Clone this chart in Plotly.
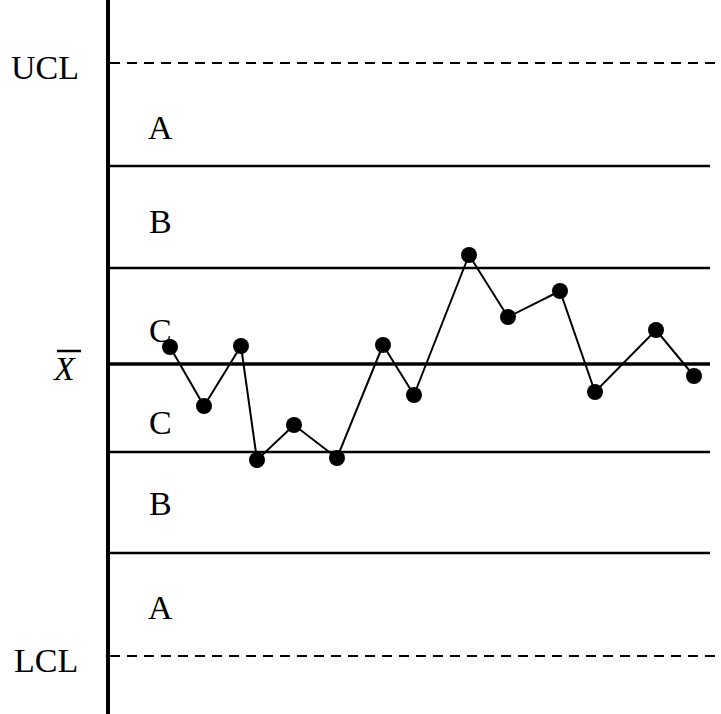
import plotly.graph_objects as go

# Sample positions (arbitrary time units) and subgroup values (sigma-ish units)
sample_t = [6.0, 9.4, 13.1, 14.7, 18.4, 22.7, 27.3, 30.4, 35.9, 39.8, 45.0, 48.5, 54.6, 58.4]
sample_v = [0.17, -0.42, 0.18, -0.96, -0.61, -0.94, 0.19, -0.31, 1.09, 0.47, 0.73, -0.28, 0.34, -0.12]

# Control limits and zone boundaries
ucl = 3.01
lcl = -2.92
center = 0.0
zone_bounds = [1.98, 0.96, -0.88, -1.89]

# Zone labels and their vertical centres
zone_labels = ["A", "B", "C", "C", "B", "A"]
zone_label_y = [2.37, 1.43, 0.34, -0.58, -1.39, -2.43]

LEFT = 110
X_MAX = 61.1
SOLID_END = 60.0
FONT = "Liberation Serif, Times New Roman, serif"
FS = 34

fig = go.Figure()

# Dashed control limits
for lvl in (ucl, lcl):
    fig.add_trace(go.Scatter(x=[0, X_MAX], y=[lvl, lvl], mode="lines",
                             line=dict(color="black", width=2, dash="10px,7px"),
                             hoverinfo="skip", showlegend=False))

# Zone boundaries
for lvl in zone_bounds:
    fig.add_trace(go.Scatter(x=[0, SOLID_END], y=[lvl, lvl], mode="lines",
                             line=dict(color="black", width=2.3),
                             hoverinfo="skip", showlegend=False))

# Center line
fig.add_trace(go.Scatter(x=[0, SOLID_END], y=[center, center], mode="lines",
                         line=dict(color="black", width=3.5),
                         hoverinfo="skip", showlegend=False))

# Data series
fig.add_trace(go.Scatter(x=sample_t, y=sample_v, mode="lines+markers",
                         line=dict(color="black", width=2),
                         marker=dict(color="black", size=16),
                         cliponaxis=False, showlegend=False))

annotations = []
for lab, yv in zip(zone_labels, zone_label_y):
    annotations.append(dict(x=5.0, y=yv, xref="x", yref="y", text=lab,
                            xanchor="center", yanchor="middle",
                            showarrow=False, font=dict(family=FONT, size=FS, color="black")))

def px_to_paper_x(px):
    return (px - LEFT) / (721 - LEFT)

annotations.append(dict(x=px_to_paper_x(45), y=ucl, xref="paper", yref="y", text="UCL",
                        xanchor="center", yanchor="middle", yshift=-4,
                        showarrow=False, font=dict(family=FONT, size=FS, color="black")))
annotations.append(dict(x=px_to_paper_x(46), y=lcl, xref="paper", yref="y", text="LCL",
                        xanchor="center", yanchor="middle", yshift=-4,
                        showarrow=False, font=dict(family=FONT, size=FS, color="black")))
annotations.append(dict(x=px_to_paper_x(64), y=center, xref="paper", yref="y", text="<i>X</i>",
                        xanchor="center", yanchor="middle", yshift=-4,
                        showarrow=False, font=dict(family=FONT, size=FS, color="black")))

fig.add_shape(type="line", xref="paper", yref="paper",
              x0=px_to_paper_x(57), x1=px_to_paper_x(81),
              y0=(714 - 351) / 714, y1=(714 - 351) / 714,
              line=dict(color="black", width=2.5))

fig.update_layout(
    width=721, height=714,
    margin=dict(l=LEFT, r=0, t=0, b=0),
    paper_bgcolor="white", plot_bgcolor="white",
    annotations=annotations,
    xaxis=dict(range=[0, X_MAX], showgrid=False, zeroline=False, showticklabels=False,
               ticks="", showline=False, fixedrange=True),
    yaxis=dict(range=[-3.50, 3.64], showgrid=False, zeroline=False, showticklabels=False,
               ticks="", showline=True, linecolor="black", linewidth=4, fixedrange=True),
)

fig.write_html("out.html", config={"displayModeBar": False},
               post_script="document.body.style.margin='0';")
